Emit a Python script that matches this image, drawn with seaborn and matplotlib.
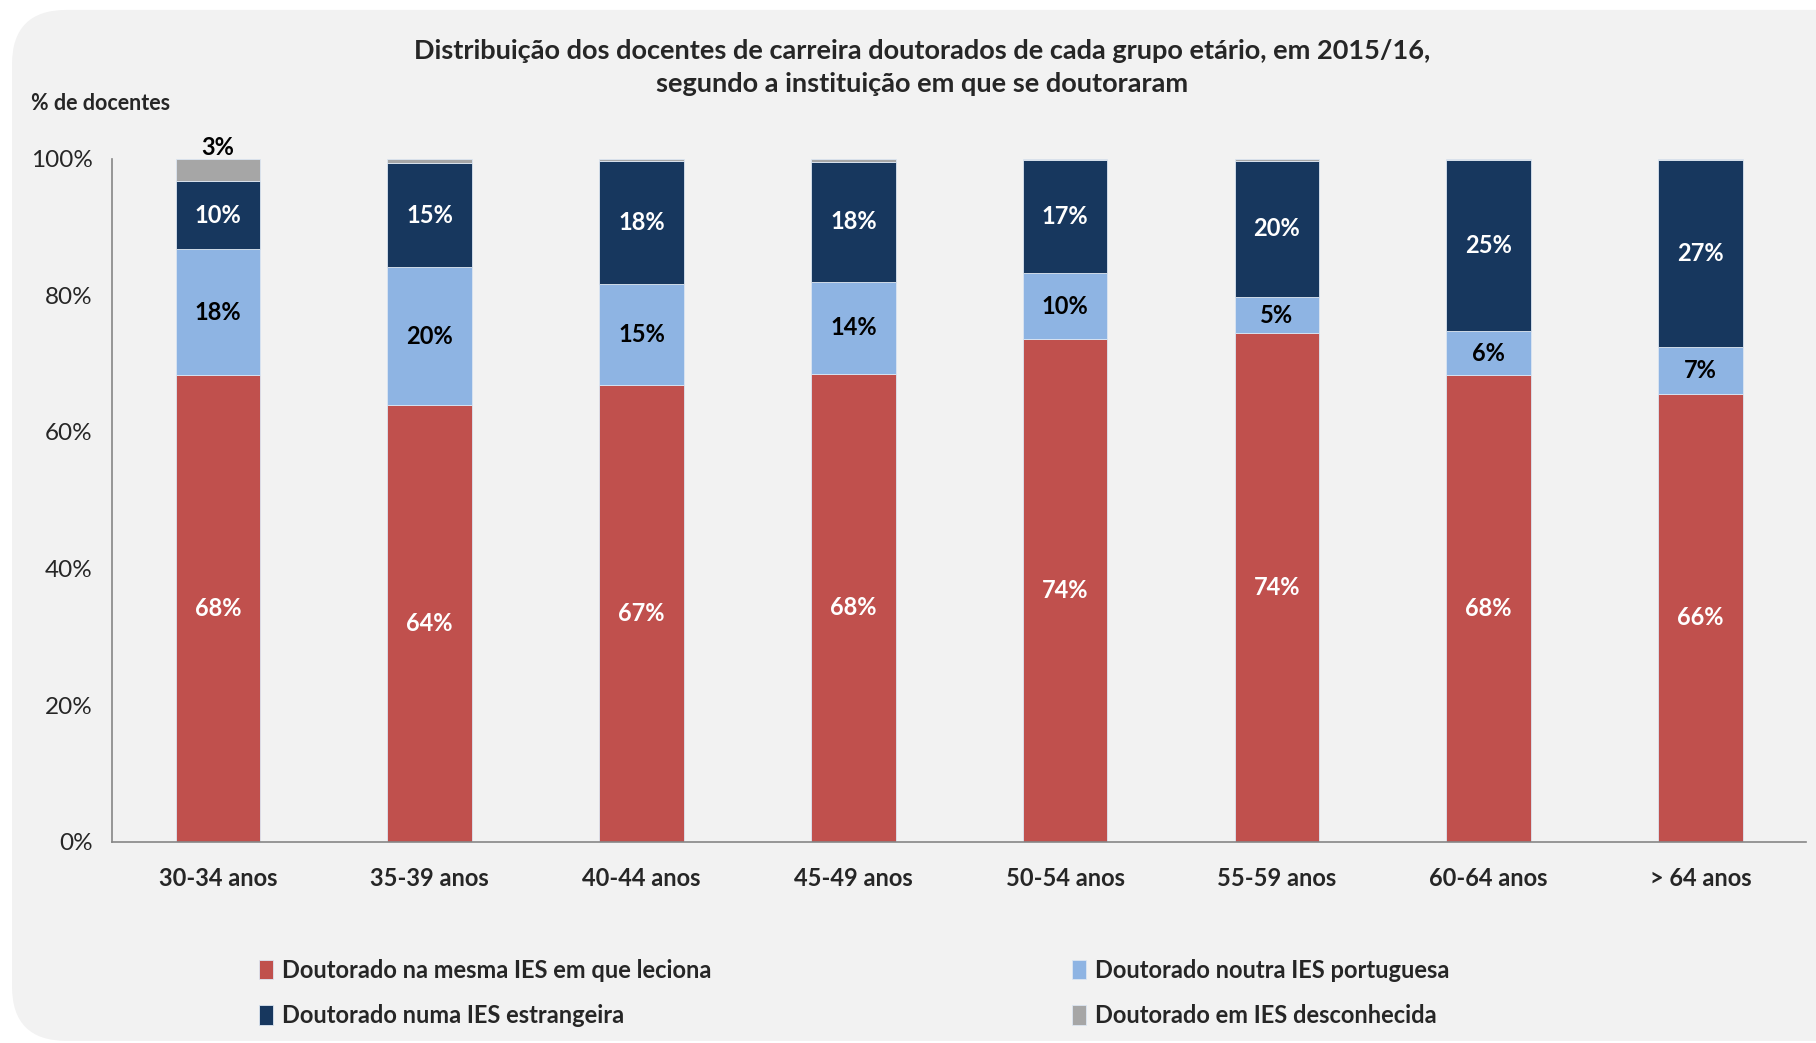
import matplotlib.pyplot as plt
import seaborn as sns
import pandas as pd
import numpy as np
from matplotlib.patches import FancyBboxPatch

# Values (% of docentes per age group)
grupos = ['30-34 anos', '35-39 anos', '40-44 anos', '45-49 anos',
          '50-54 anos', '55-59 anos', '60-64 anos', '> 64 anos']
mesma_ies = [68.3, 63.9, 66.9, 68.5, 73.6, 74.4, 68.3, 65.6]
outra_ies_pt = [18.4, 20.2, 14.7, 13.5, 9.6, 5.3, 6.4, 6.8]
ies_estrangeira = [10.0, 15.2, 18.0, 17.5, 16.6, 20.0, 25.1, 27.4]
ies_desconhecida = [3.3, 0.7, 0.4, 0.5, 0.2, 0.3, 0.2, 0.2]

series_names = ['Doutorado na mesma IES em que leciona',
                'Doutorado noutra IES portuguesa',
                'Doutorado numa IES estrangeira',
                'Doutorado em IES desconhecida']
colors = ['#C0504D', '#8EB4E3', '#17375E', '#A6A6A6']
label_colors = ['white', 'black', 'white', 'black']

df = pd.DataFrame({
    'grupo': grupos,
    series_names[0]: mesma_ies,
    series_names[1]: outra_ies_pt,
    series_names[2]: ies_estrangeira,
    series_names[3]: ies_desconhecida,
})

sns.set_style('white')
plt.rcParams['font.family'] = ['Lato', 'DejaVu Sans']

fig = plt.figure(figsize=(18.16, 10.43), dpi=100)
fig.patch.set_facecolor('white')
bg = FancyBboxPatch((12 / 1816, 0.002), 1.2, (1043 - 12) / 1043,
                    boxstyle='round,pad=0,rounding_size=0.03',
                    transform=fig.transFigure, facecolor='#F2F2F2',
                    edgecolor='none', zorder=-10, mutation_aspect=1816 / 1043)
fig.patches.append(bg)

ax = fig.add_axes([0.0617, 0.193, 0.933, 0.655])
ax.set_facecolor('#F2F2F2')

bottom = np.zeros(len(grupos))
for i, name in enumerate(series_names):
    sns.barplot(data=df, x='grupo', y=name, bottom=bottom, color=colors[i],
                width=0.4, errorbar=None, ax=ax, saturation=1,
                linewidth=0.6, edgecolor='#DCE6F2', label=name)
    cont = ax.containers[-1]
    vals = df[name].values
    if i < 3:
        labels = [f'{v:.0f}%' for v in vals]
        ax.bar_label(cont, labels=labels, label_type='center',
                     color=label_colors[i], fontsize=17, fontweight='bold')
    else:
        labels = [f'{vals[0]:.0f}%'] + [''] * (len(vals) - 1)
        ax.bar_label(cont, labels=labels, label_type='edge', padding=0,
                     color='black', fontsize=17, fontweight='bold')
    bottom = bottom + vals

ax.set_ylim(0, 100)
ax.set_xlim(-0.5, len(grupos) - 0.5)
ax.set_yticks(np.arange(0, 101, 20))
ax.set_yticklabels([f'{t}%' for t in range(0, 101, 20)], fontsize=17.5)
ax.set_xlabel('')
ax.set_ylabel('')
ax.tick_params(axis='x', which='major', length=0, pad=18, labelsize=17)
for lab in ax.get_xticklabels():
    lab.set_fontweight('bold')
ax.set_xticks(np.arange(-0.5, len(grupos), 1), minor=True)
ax.tick_params(axis='x', which='minor', length=7, color='#868686', width=1.2)
ax.tick_params(axis='y', length=6, color='#868686', width=1.2, pad=8)
for s in ['top', 'right']:
    ax.spines[s].set_visible(False)
for s in ['left', 'bottom']:
    ax.spines[s].set_color('#868686')
    ax.spines[s].set_linewidth(1.2)
if ax.legend_ is not None:
    ax.legend_.remove()

fig.text(0.508, 0.963, 'Distribuição dos docentes de carreira doutorados de cada grupo etário, em 2015/16,\n'
         'segundo a instituição em que se doutoraram',
         ha='center', va='top', fontsize=19.5, fontweight='bold', linespacing=1.45)
fig.text(0.017, 0.901, '% de docentes', ha='left', va='center',
         fontsize=15.5, fontweight='bold')

# legend filled row-wise: red, light blue / navy, gray
handles, _ = ax.get_legend_handles_labels()
order = [0, 2, 1, 3]
leg = fig.legend([handles[k] for k in order], [series_names[k] for k in order],
                 loc='lower left', bbox_to_anchor=(0.131, -0.005), ncol=2,
                 frameon=False, prop={'weight': 'bold', 'size': 17},
                 handlelength=0.6, handleheight=0.9, handletextpad=0.35,
                 columnspacing=15.3, labelspacing=0.95)

plt.savefig('out.png', dpi=100, facecolor=fig.get_facecolor())
